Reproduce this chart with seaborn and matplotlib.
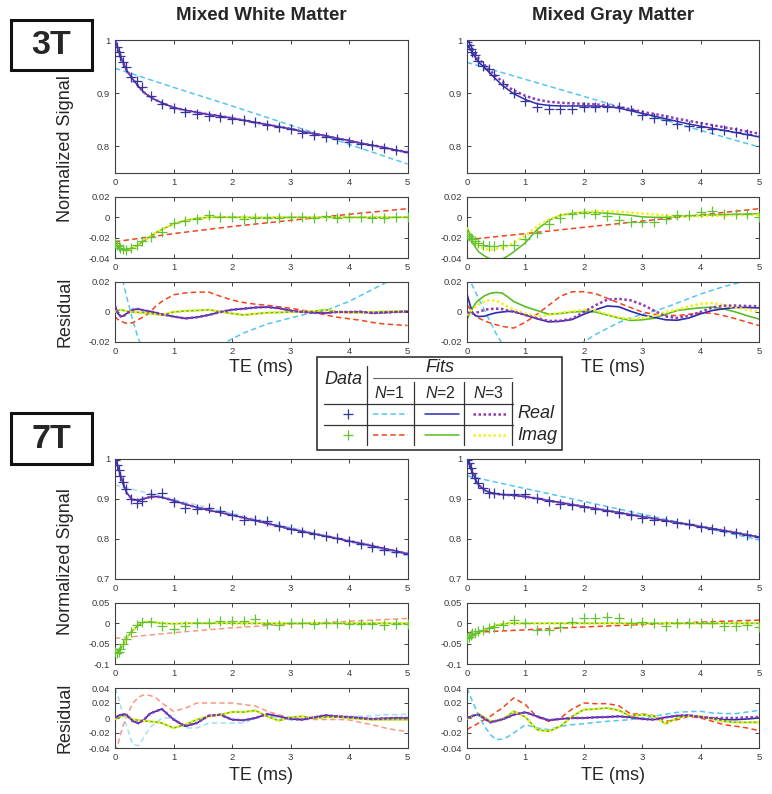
import matplotlib
matplotlib.use('Agg')
import matplotlib.pyplot as plt
from matplotlib.patches import Rectangle
from matplotlib.ticker import FuncFormatter
import seaborn as sns

# echo times (ms): measured points, fitted-curve grid, coarse grid for the N=1 fits
TE_DATA = [0, 0.03, 0.06, 0.09, 0.13, 0.19, 0.28, 0.37, 0.47, 0.62, 0.8, 1.0,
           1.2, 1.4, 1.6, 1.8, 2.0, 2.2, 2.4, 2.6, 2.8, 3.0, 3.2, 3.4, 3.6, 3.8,
           4.0, 4.2, 4.4, 4.6, 4.8, 5.0]
TE_FIT = [0, 0.05, 0.1, 0.15, 0.2, 0.3, 0.4, 0.5, 0.6, 0.7, 0.8, 1.0,
          1.2, 1.4, 1.6, 1.8, 2.0, 2.2, 2.4, 2.6, 2.8, 3.0, 3.2, 3.4, 3.6, 3.8,
          4.0, 4.2, 4.4, 4.6, 4.8, 5.0]
TE_N1 = [0, 1, 2, 3, 4, 5]

# ---------------- 3T mixed white matter ----------------
WM3_REAL = [1.000, 0.987, 0.978, 0.969, 0.959, 0.950, 0.931, 0.922, 0.911, 0.894, 0.880, 0.872,
            0.864, 0.861, 0.858, 0.855, 0.852, 0.849, 0.846, 0.841, 0.836, 0.832, 0.826, 0.822,
            0.817, 0.814, 0.809, 0.805, 0.802, 0.797, 0.794, 0.789]
WM3_IMAG = [-0.025, -0.027, -0.028, -0.030, -0.031, -0.032, -0.030, -0.027, -0.023, -0.019, -0.014, -0.006,
            -0.004, -0.002, 0.002, 0.0005, 0.0, -0.0015, -0.0005, -0.0005, -0.0005, 0.0003, 0.0003, -0.0005,
            0.0015, -0.0005, 0.0003, 0.0003, -0.0005, -0.0005, 0.0, 0.0005]
WM3_N1_REAL = [0.947, 0.911, 0.876, 0.840, 0.804, 0.767]
WM3_N1_IMAG = [-0.024, -0.016, -0.009, -0.003, 0.003, 0.0085]
WM3_N2_REAL = [1.000, 0.982, 0.968, 0.955, 0.943, 0.927, 0.913, 0.901, 0.893, 0.887, 0.882, 0.873,
               0.868, 0.864, 0.860, 0.857, 0.853, 0.849, 0.845, 0.841, 0.837, 0.833, 0.828, 0.824,
               0.820, 0.815, 0.811, 0.806, 0.802, 0.798, 0.793, 0.789]
WM3_N2_IMAG = [-0.027, -0.029, -0.031, -0.032, -0.032, -0.030, -0.027, -0.023, -0.019, -0.015, -0.012, -0.0065,
               -0.003, -0.001, 0.0, 0.0003, 0.0002, 0.0, -0.0002, -0.0002, 0.0, 0.0, 0.0001, 0.0,
               0.0, 0.0, 0.0, 0.0, 0.0, 0.0, 0.0, 0.0002]
WM3_N3_REAL = WM3_N2_REAL
WM3_N3_IMAG = WM3_N2_IMAG
WM3_RES_N1_REAL = [0.050, 0.040, 0.030, 0.018, 0.010, -0.005, -0.018, -0.027, -0.032, -0.036, -0.038, -0.039,
                   -0.037, -0.032, -0.027, -0.022, -0.018, -0.014, -0.011, -0.008, -0.006, -0.004, -0.002, -0.0005,
                   0.001, 0.004, 0.007, 0.011, 0.015, 0.019, 0.024, 0.029]
WM3_RES_N1_IMAG = [-0.003, -0.005, -0.006, -0.007, -0.0075, -0.0072, -0.005, -0.003, 0.0, 0.004, 0.007, 0.0115,
                   0.0127, 0.0132, 0.0133, 0.0105, 0.008, 0.0063, 0.0052, 0.0045, 0.0035, 0.0025, 0.0012, 0.0,
                   -0.002, -0.0035, -0.0045, -0.0055, -0.007, -0.008, -0.0085, -0.009]
WM3_RES_N2_REAL = [0.004, -0.001, -0.003, -0.0025, -0.001, 0.0015, 0.002, 0.001, 0.0004, -0.0005, -0.0015, -0.003,
                   -0.0043, -0.0035, -0.002, 0.0, 0.0015, 0.0022, 0.003, 0.0033, 0.0025, 0.001, 0.0, -0.0005,
                   -0.0007, 0.0, 0.0, 0.0002, -0.0007, -0.0004, 0.0, 0.0003]
WM3_RES_N2_IMAG = [0.0, 0.001, 0.0015, 0.001, 0.0005, 0.0, -0.0003, -0.0005, -0.001, -0.0015, -0.002, 0.0,
                   0.0007, 0.001, 0.0015, 0.0002, -0.001, -0.002, -0.0012, -0.0005, -0.0003, 0.0, 0.0002, 0.0005,
                   0.0015, 0.0, -0.0003, -0.0005, 0.0, 0.0003, 0.0004, 0.0005]
WM3_RES_N3_REAL = WM3_RES_N2_REAL
WM3_RES_N3_IMAG = WM3_RES_N2_IMAG

# ---------------- 3T mixed gray matter ----------------
GM3_REAL = [0.997, 0.990, 0.983, 0.977, 0.971, 0.961, 0.951, 0.945, 0.935, 0.918, 0.900, 0.886,
            0.875, 0.870, 0.870, 0.870, 0.875, 0.875, 0.875, 0.874, 0.868, 0.859, 0.853, 0.849,
            0.843, 0.839, 0.837, 0.833, 0.830, 0.828, 0.824, 0.819]
GM3_IMAG = [-0.016, -0.018, -0.020, -0.021, -0.023, -0.025, -0.0275, -0.028, -0.028, -0.0275, -0.0275, -0.021,
            -0.015, -0.007, -0.001, 0.0036, 0.0043, 0.0036, 0.001, -0.0022, -0.0046, -0.0049, -0.0049, -0.0016,
            0.002, 0.0026, 0.005, 0.0059, 0.0036, 0.0036, 0.003, 0.0]
GM3_N1_REAL = [0.958, 0.926, 0.894, 0.862, 0.830, 0.799]
GM3_N1_IMAG = [-0.022, -0.016, -0.0098, -0.0037, 0.0024, 0.0085]
GM3_N2_REAL = [0.990, 0.984, 0.975, 0.966, 0.958, 0.948, 0.937, 0.926, 0.915, 0.907, 0.899, 0.888,
               0.880, 0.877, 0.876, 0.876, 0.876, 0.876, 0.875, 0.872, 0.867, 0.862, 0.857, 0.852,
               0.847, 0.842, 0.838, 0.834, 0.830, 0.826, 0.822, 0.818]
GM3_N2_IMAG = [-0.009, -0.018, -0.025, -0.030, -0.034, -0.038, -0.041, -0.042, -0.041, -0.038, -0.034, -0.025,
               -0.012, -0.003, 0.002, 0.004, 0.005, 0.0047, 0.004, 0.003, 0.002, 0.0005, 0.0, 0.0,
               0.0007, 0.0013, 0.002, 0.0023, 0.0026, 0.003, 0.0033, 0.0036]
GM3_N3_REAL = [1.000, 0.991, 0.982, 0.973, 0.965, 0.953, 0.942, 0.932, 0.922, 0.912, 0.905, 0.895,
               0.888, 0.884, 0.882, 0.881, 0.880, 0.879, 0.877, 0.874, 0.870, 0.865, 0.861, 0.857,
               0.852, 0.848, 0.844, 0.840, 0.836, 0.832, 0.828, 0.824]
GM3_N3_IMAG = [-0.010, -0.017, -0.022, -0.026, -0.028, -0.031, -0.032, -0.031, -0.030, -0.028, -0.025, -0.018,
               -0.009, -0.002, 0.002, 0.004, 0.005, 0.0058, 0.006, 0.0055, 0.0048, 0.0038, 0.0028, 0.0018,
               0.0012, 0.001, 0.0012, 0.0015, 0.0018, 0.002, 0.0023, 0.0026]
GM3_RES_N1_REAL = [0.030, 0.021, 0.017, 0.013, 0.009, 0.001, -0.0067, -0.0145, -0.021, -0.026, -0.029, -0.033,
                   -0.034, -0.033, -0.029, -0.025, -0.020, -0.015, -0.011, -0.007, -0.004, -0.0015, 0.0005, 0.003,
                   0.006, 0.009, 0.012, 0.0145, 0.017, 0.019, 0.021, 0.023]
GM3_RES_N1_IMAG = [0.005, 0.002, -0.0005, -0.0025, -0.004, -0.006, -0.0073, -0.0085, -0.0095, -0.0102, -0.0107, -0.0068,
                   -0.0015, 0.0045, 0.0105, 0.0135, 0.0135, 0.0122, 0.0092, 0.006, 0.003, 0.0, -0.0015, -0.0022,
                   -0.0024, -0.0015, -0.0007, -0.0008, -0.0025, -0.0045, -0.0068, -0.009]
GM3_RES_N2_REAL = [0.012, 0.005, -0.001, -0.0025, -0.003, -0.0028, -0.0015, -0.0005, 0.0, 0.0004, 0.0003, -0.002,
                   -0.0045, -0.0066, -0.0062, -0.005, -0.0015, 0.0015, 0.004, 0.0035, 0.0005, -0.002, -0.0035, -0.0052,
                   -0.0055, -0.004, -0.0012, 0.001, 0.0022, 0.003, 0.003, 0.0027]
GM3_RES_N2_IMAG = [-0.005, -0.0005, 0.003, 0.006, 0.008, 0.0108, 0.0125, 0.013, 0.0127, 0.010, 0.007, 0.0035,
                   0.001, -0.0015, -0.001, 0.0, 0.0004, 0.0, -0.002, -0.004, -0.0056, -0.0052, -0.0042, -0.0015,
                   0.001, 0.002, 0.0028, 0.0033, 0.002, 0.0, -0.0025, -0.0047]
GM3_RES_N3_REAL = [0.0, -0.001, -0.001, -0.0005, 0.0, 0.0015, 0.002, 0.0022, 0.002, 0.001, 0.0002, -0.002,
                   -0.0042, -0.006, -0.0058, -0.0045, 0.0, 0.0045, 0.0082, 0.0088, 0.0078, 0.005, 0.001, -0.003,
                   -0.004, -0.0025, 0.0, 0.003, 0.0042, 0.0043, 0.004, 0.0038]
GM3_RES_N3_IMAG = [-0.002, 0.0, 0.002, 0.0035, 0.005, 0.007, 0.008, 0.0075, 0.0055, 0.0035, 0.0015, -0.001,
                   -0.003, -0.002, -0.0005, 0.0005, 0.0015, 0.0012, -0.0015, -0.0035, -0.0047, -0.004, -0.0025, 0.0,
                   0.0015, 0.0038, 0.0055, 0.006, 0.0045, 0.003, 0.0015, 0.0004]

# ---------------- 7T mixed white matter ----------------
WM7_REAL = [0.998, 0.986, 0.972, 0.958, 0.942, 0.926, 0.900, 0.890, 0.895, 0.912, 0.915, 0.892,
            0.877, 0.875, 0.877, 0.869, 0.860, 0.848, 0.848, 0.844, 0.833, 0.825, 0.817, 0.813,
            0.808, 0.802, 0.794, 0.787, 0.779, 0.773, 0.768, 0.762]
WM7_IMAG = [-0.070, -0.074, -0.070, -0.063, -0.052, -0.038, -0.021, -0.004, 0.004, 0.004, -0.0066, -0.013,
            -0.0066, 0.0016, 0.0, 0.0066, 0.0066, 0.0066, 0.010, -0.0016, -0.004, 0.0, 0.0016, -0.0016,
            0.0, 0.0016, -0.0016, -0.0016, -0.0016, -0.004, -0.0016, -0.0016]
WM7_N1_REAL = [0.935, 0.899, 0.864, 0.829, 0.793, 0.758]
WM7_N1_IMAG = [-0.037, -0.023, -0.011, -0.002, 0.005, 0.012]
WM7_N2_REAL = [1.000, 0.980, 0.955, 0.935, 0.915, 0.898, 0.897, 0.901, 0.905, 0.906, 0.904, 0.896,
               0.887, 0.879, 0.872, 0.866, 0.860, 0.853, 0.846, 0.839, 0.832, 0.825, 0.819, 0.813,
               0.807, 0.801, 0.795, 0.789, 0.783, 0.776, 0.770, 0.763]
WM7_N2_IMAG = [-0.072, -0.070, -0.062, -0.050, -0.036, -0.018, -0.004, 0.003, 0.004, 0.002, 0.0, -0.001,
               0.0, 0.0005, 0.0005, 0.0003, 0.0, 0.0, 0.0, 0.0, 0.0, 0.0, 0.0, 0.0,
               0.0, 0.0, 0.0, 0.0, 0.0, 0.0, 0.0, 0.0]
WM7_N3_REAL = WM7_N2_REAL
WM7_N3_IMAG = WM7_N2_IMAG
WM7_RES_N1_REAL = [0.040, 0.030, 0.015, 0.0, -0.011, -0.035, -0.037, -0.025, -0.012, -0.007, 0.0, 0.0,
                   -0.0133, -0.0133, -0.0067, -0.0067, -0.0067, -0.0067, 0.0, 0.0044, -0.0013, -0.0022, -0.0022, 0.0,
                   0.0022, 0.0013, 0.0022, 0.0022, 0.003, 0.0044, 0.0044, 0.005]
WM7_RES_N1_IMAG = [-0.045, -0.035, -0.020, -0.008, 0.002, 0.019, 0.028, 0.031, 0.030, 0.027, 0.020, 0.009,
                   0.013, 0.020, 0.020, 0.020, 0.020, 0.018, 0.016, 0.009, 0.0044, 0.0, -0.002, -0.002,
                   -0.002, -0.002, -0.0025, -0.006, -0.009, -0.013, -0.016, -0.018]
WM7_RES_N2_REAL = [0.0, 0.003, 0.004, 0.005, 0.004, -0.004, -0.007, -0.002, 0.006, 0.009, 0.012, -0.002,
                   -0.011, -0.0067, 0.003, 0.0044, -0.0022, -0.003, 0.0, 0.0053, 0.0022, -0.0013, -0.0022, 0.0009,
                   0.0036, 0.0022, 0.0013, 0.0, -0.0013, -0.0005, 0.0, 0.0]
WM7_RES_N2_IMAG = [-0.0013, 0.0, 0.002, 0.004, 0.003, -0.002, -0.003, -0.004, -0.0045, -0.0055, -0.0067, -0.0133,
                   -0.009, -0.0022, 0.0022, 0.0044, 0.008, 0.008, 0.010, 0.0022, -0.0036, 0.0009, 0.0022, -0.0003,
                   0.0009, 0.0013, 0.0, -0.0013, -0.0022, -0.0022, -0.0022, -0.0022]
WM7_RES_N3_REAL = WM7_RES_N2_REAL
WM7_RES_N3_IMAG = WM7_RES_N2_IMAG

# ---------------- 7T mixed gray matter ----------------
GM7_REAL = [0.998, 0.990, 0.977, 0.965, 0.952, 0.940, 0.927, 0.916, 0.915, 0.912, 0.912, 0.912,
            0.902, 0.894, 0.888, 0.886, 0.880, 0.875, 0.871, 0.866, 0.860, 0.852, 0.848, 0.846,
            0.841, 0.838, 0.831, 0.825, 0.819, 0.814, 0.810, 0.804]
GM7_IMAG = [-0.037, -0.033, -0.029, -0.025, -0.023, -0.020, -0.016, -0.012, -0.008, -0.004, 0.007, 0.0,
            -0.016, -0.016, -0.008, 0.004, 0.013, 0.013, 0.016, 0.012, 0.002, 0.004, 0.0, -0.006,
            0.0, 0.0016, 0.0, 0.0, -0.006, -0.006, -0.003, -0.008]
GM7_N1_REAL = [0.958, 0.926, 0.894, 0.862, 0.830, 0.798]
GM7_N1_IMAG = [-0.023, -0.016, -0.009, -0.003, 0.003, 0.008]
GM7_N2_REAL = [1.000, 0.985, 0.965, 0.948, 0.935, 0.922, 0.916, 0.913, 0.911, 0.910, 0.909, 0.906,
               0.901, 0.896, 0.891, 0.886, 0.881, 0.876, 0.871, 0.866, 0.861, 0.856, 0.851, 0.846,
               0.841, 0.836, 0.831, 0.826, 0.821, 0.816, 0.810, 0.805]
GM7_N2_IMAG = [-0.040, -0.035, -0.030, -0.026, -0.022, -0.016, -0.010, -0.005, -0.002, 0.0, 0.0, 0.0,
               0.0, 0.0, 0.0, 0.0, 0.0, 0.0, 0.0, 0.0, 0.0, 0.0, 0.0, 0.0,
               0.0, 0.0, 0.0, 0.0, 0.0, 0.0, 0.0, 0.0]
GM7_N3_REAL = GM7_N2_REAL
GM7_N3_IMAG = GM7_N2_IMAG
GM7_RES_N1_REAL = [0.040, 0.030, 0.021, 0.012, 0.003, -0.011, -0.0222, -0.029, -0.028, -0.025, -0.020, -0.009,
                   -0.0133, -0.0156, -0.011, -0.0089, -0.0076, -0.006, -0.0044, -0.0033, -0.0022, 0.0, 0.0022, 0.005,
                   0.0076, 0.0085, 0.0089, 0.0067, 0.006, 0.0058, 0.008, 0.0102]
GM7_RES_N1_IMAG = [-0.0156, -0.013, -0.011, -0.009, -0.0067, -0.002, 0.0022, 0.008, 0.013, 0.020, 0.0267, 0.0178,
                   0.0013, -0.0044, 0.0, 0.012, 0.020, 0.0191, 0.0191, 0.0164, 0.0053, 0.0053, 0.003, -0.0044,
                   -0.0022, 0.0022, 0.0, -0.0044, -0.0089, -0.011, -0.0133, -0.0169]
GM7_RES_N2_REAL = [0.0, 0.0015, 0.003, 0.004, 0.0044, -0.001, -0.0058, -0.004, -0.0018, 0.001, 0.0044, 0.0076,
                   0.0022, -0.003, -0.0013, 0.0, 0.0, 0.0009, 0.0013, 0.0022, 0.0009, -0.0013, -0.0022, 0.0009,
                   0.003, 0.0036, 0.0013, 0.0, -0.0022, -0.0022, -0.0013, 0.0]
GM7_RES_N3_REAL = [0.0, 0.0015, 0.003, 0.004, 0.0044, -0.001, -0.0058, -0.004, -0.0018, 0.001, 0.0044, 0.0076,
                   0.0022, -0.003, -0.0013, 0.0, 0.0, 0.0009, 0.0013, 0.0022, 0.0009, -0.0013, -0.0022, 0.0009,
                   0.003, 0.0036, 0.0013, 0.0, 0.0, 0.0, 0.0009, 0.0013]
GM7_RES_N2_IMAG = [-0.0013, 0.0005, 0.0025, 0.004, 0.0053, 0.0005, -0.0044, -0.0035, -0.0025, 0.003, 0.0089, 0.0013,
                   -0.0156, -0.0178, -0.0111, 0.0022, 0.0111, 0.012, 0.0133, 0.0102, 0.0022, 0.0044, 0.0022, -0.0076,
                   0.0, 0.003, 0.0022, -0.0013, -0.0044, -0.0058, -0.0058, -0.0058]
GM7_RES_N3_IMAG = GM7_RES_N2_IMAG

TITLES = ['Mixed White Matter', 'Mixed Gray Matter']

# colours
C_DATA_RE = '#35359e'
C_DATA_IM = '#62c234'
C_N1_RE = '#55c6ee'
C_N1_IM = '#f2441c'
C_N2_RE = '#2c2cae'
C_N2_IM = '#58bd22'
C_N3_RE = '#9238b4'
C_N3_IM = '#f4f01a'
DASH = (0, (3.5, 2.2))
DOT = (0, (1, 1))

sns.set_style('ticks')
plt.rcParams['font.family'] = ['Liberation Sans', 'DejaVu Sans']
plt.rcParams['axes.unicode_minus'] = False
plt.rcParams['mathtext.fontset'] = 'custom'
plt.rcParams['mathtext.it'] = 'Liberation Sans:italic'
plt.rcParams['mathtext.rm'] = 'Liberation Sans'

W, H = 772, 794
fig = plt.figure(figsize=(W / 100, H / 100), dpi=100)
FMT = FuncFormatter(lambda v, p: f'{v:g}')


def px_axes(x0, y0, x1, y1):
    return fig.add_axes([x0 / W, 1 - y1 / H, (x1 - x0) / W, (y1 - y0) / H])


def curve(ax, x, y, color, ls, lw=1.1, alpha=1.0, z=2):
    sns.lineplot(x=x, y=y, ax=ax, color=color, linestyle=ls, linewidth=lw,
                 alpha=alpha, errorbar=None, legend=False, zorder=z)


def marks(ax, x, y, color):
    ax.plot(x, y, linestyle='none', marker='+', color=color, ms=6.5, mew=0.9, zorder=5)


def style(ax, ylim, yticks):
    ax.set_xlim(0, 5)
    ax.set_ylim(*ylim)
    ax.set_xticks([0, 1, 2, 3, 4, 5])
    ax.set_yticks(yticks)
    ax.xaxis.set_major_formatter(FMT)
    ax.yaxis.set_major_formatter(FMT)
    ax.tick_params(direction='in', length=3, width=0.7, top=True, right=True,
                   labelsize=6.8, labelcolor='#3a3a3a', color='#404040', pad=3.5)
    for s in ax.spines.values():
        s.set_linewidth(0.8)
        s.set_color('#404040')
    ax.set_xlabel('')
    ax.set_ylabel('')


def column(x0, x1, rows, d, lims, faint):
    a = 0.55 if faint else 1.0
    ax_s = px_axes(x0, rows[0][0], x1, rows[0][1])
    ax_i = px_axes(x0, rows[1][0], x1, rows[1][1])
    ax_r = px_axes(x0, rows[2][0], x1, rows[2][1])
    # signal magnitude (real channel)
    curve(ax_s, TE_N1, d['n1_re'], C_N1_RE, DASH, alpha=a, z=1)
    curve(ax_s, TE_FIT, d['n2_re'], C_N2_RE, '-', z=2)
    curve(ax_s, TE_FIT, d['n3_re'], C_N3_RE, DOT, lw=1.8, z=3)
    marks(ax_s, TE_DATA, d['re'], C_DATA_RE)
    # imaginary channel
    curve(ax_i, TE_N1, d['n1_im'], C_N1_IM, DASH, alpha=a, z=1)
    curve(ax_i, TE_FIT, d['n2_im'], C_N2_IM, '-', z=2)
    curve(ax_i, TE_FIT, d['n3_im'], C_N3_IM, DOT, lw=1.8, z=3)
    marks(ax_i, TE_DATA, d['im'], C_DATA_IM)
    # residuals
    curve(ax_r, TE_FIT, d['r1_re'], C_N1_RE, DASH, alpha=a, z=1)
    curve(ax_r, TE_FIT, d['r1_im'], C_N1_IM, DASH, alpha=a, z=1)
    curve(ax_r, TE_FIT, d['r2_im'], C_N2_IM, '-', lw=1.2, z=2)
    curve(ax_r, TE_FIT, d['r3_im'], C_N3_IM, DOT, lw=1.8, z=3)
    curve(ax_r, TE_FIT, d['r2_re'], C_N2_RE, '-', lw=1.2, z=2)
    curve(ax_r, TE_FIT, d['r3_re'], C_N3_RE, DOT, lw=1.8, z=3)
    for ax, (ylim, yt) in zip((ax_s, ax_i, ax_r), lims):
        style(ax, ylim, yt)


def pack(re, im, n1r, n1i, n2r, n2i, n3r, n3i, r1r, r1i, r2r, r2i, r3r, r3i):
    return dict(re=re, im=im, n1_re=n1r, n1_im=n1i, n2_re=n2r, n2_im=n2i, n3_re=n3r, n3_im=n3i,
                r1_re=r1r, r1_im=r1i, r2_re=r2r, r2_im=r2i, r3_re=r3r, r3_im=r3i)


COLS = [(115, 407.5), (467, 759)]
ROWS_3T = [(40, 173), (197, 258), (282, 342)]
ROWS_7T = [(459, 579), (603, 664), (688, 748)]
LIM_3T = [((0.75, 1.0), [0.8, 0.9, 1.0]),
          ((-0.04, 0.02), [-0.04, -0.02, 0, 0.02]),
          ((-0.02, 0.02), [-0.02, 0, 0.02])]
LIM_7T = [((0.7, 1.0), [0.7, 0.8, 0.9, 1.0]),
          ((-0.1, 0.05), [-0.1, -0.05, 0, 0.05]),
          ((-0.04, 0.04), [-0.04, -0.02, 0, 0.02, 0.04])]

wm3 = pack(WM3_REAL, WM3_IMAG, WM3_N1_REAL, WM3_N1_IMAG, WM3_N2_REAL, WM3_N2_IMAG, WM3_N3_REAL, WM3_N3_IMAG,
           WM3_RES_N1_REAL, WM3_RES_N1_IMAG, WM3_RES_N2_REAL, WM3_RES_N2_IMAG, WM3_RES_N3_REAL, WM3_RES_N3_IMAG)
gm3 = pack(GM3_REAL, GM3_IMAG, GM3_N1_REAL, GM3_N1_IMAG, GM3_N2_REAL, GM3_N2_IMAG, GM3_N3_REAL, GM3_N3_IMAG,
           GM3_RES_N1_REAL, GM3_RES_N1_IMAG, GM3_RES_N2_REAL, GM3_RES_N2_IMAG, GM3_RES_N3_REAL, GM3_RES_N3_IMAG)
wm7 = pack(WM7_REAL, WM7_IMAG, WM7_N1_REAL, WM7_N1_IMAG, WM7_N2_REAL, WM7_N2_IMAG, WM7_N3_REAL, WM7_N3_IMAG,
           WM7_RES_N1_REAL, WM7_RES_N1_IMAG, WM7_RES_N2_REAL, WM7_RES_N2_IMAG, WM7_RES_N3_REAL, WM7_RES_N3_IMAG)
gm7 = pack(GM7_REAL, GM7_IMAG, GM7_N1_REAL, GM7_N1_IMAG, GM7_N2_REAL, GM7_N2_IMAG, GM7_N3_REAL, GM7_N3_IMAG,
           GM7_RES_N1_REAL, GM7_RES_N1_IMAG, GM7_RES_N2_REAL, GM7_RES_N2_IMAG, GM7_RES_N3_REAL, GM7_RES_N3_IMAG)

column(*COLS[0], ROWS_3T, wm3, LIM_3T, False)
column(*COLS[1], ROWS_3T, gm3, LIM_3T, False)
column(*COLS[0], ROWS_7T, wm7, LIM_7T, True)
column(*COLS[1], ROWS_7T, gm7, LIM_7T, False)

# overlay in pixel units for labels, field-strength boxes and the legend table
ov = fig.add_axes([0, 0, 1, 1], zorder=10)
ov.set_xlim(0, W)
ov.set_ylim(H, 0)
ov.axis('off')

for (x0, x1), title in zip(COLS, TITLES):
    xc = (x0 + x1) / 2
    ov.text(xc, 15.5, title, ha='center', va='center', fontsize=13.5, fontweight='bold')
    ov.text(xc, 368, 'TE (ms)', ha='center', va='center', fontsize=13)
    ov.text(xc, 775, 'TE (ms)', ha='center', va='center', fontsize=13)

for rows in (ROWS_3T, ROWS_7T):
    ov.text(65, (rows[0][0] + rows[1][1]) / 2, 'Normalized Signal', rotation=90,
            ha='center', va='center', fontsize=13)
    ov.text(65, (rows[2][0] + rows[2][1]) / 2, 'Residual', rotation=90,
            ha='center', va='center', fontsize=13)

for label, (y0, y1) in (('3T', (19.5, 70)), ('7T', (413, 464))):
    ov.add_patch(Rectangle((10.5, y0), 81.5, y1 - y0, fill=False, lw=2.2, ec='#111111'))
    ov.text(51, (y0 + y1) / 2 + 1, label, ha='center', va='center', fontsize=24.5, fontweight='bold')

# legend table
LX0, LY0, LX1, LY1 = 316.5, 357, 562, 450
ov.add_patch(Rectangle((LX0, LY0), LX1 - LX0, LY1 - LY0, fc='white', ec='#222222', lw=1.1))
ov.text(343, 380, 'Data', style='italic', ha='center', va='center', fontsize=13)
ov.text(440, 367.5, 'Fits', style='italic', ha='center', va='center', fontsize=13)
ov.plot([373, 512], [377.5, 377.5], color='#666666', lw=0.8)
for xc, n in ((390, 1), (440, 2), (489, 3)):
    ov.text(xc, 393.5, f'$N$={n}', ha='center', va='center', fontsize=11.5)
ov.plot([367, 367], [366, 445], color='#333333', lw=0.9)
for xv in (414, 464, 512):
    ov.plot([xv, xv], [382, 445], color='#333333', lw=0.9)
for yh in (403.5, 424.5):
    ov.plot([324, 513], [yh, yh], color='#333333', lw=0.9)
LEG_ROWS = [(413.5, C_DATA_RE, C_N1_RE, C_N2_RE, C_N3_RE, 'Real'),
            (435, C_DATA_IM, C_N1_IM, C_N2_IM, C_N3_IM, 'Imag')]
for y, cd, c1, c2, c3, name in LEG_ROWS:
    ov.plot([348], [y], marker='+', color=cd, ms=6.5, mew=0.9)
    ov.plot([373, 408], [y, y], color=c1, lw=1.1, linestyle=DASH)
    ov.plot([425, 459], [y, y], color=c2, lw=1.1)
    ov.plot([473, 508], [y, y], color=c3, lw=1.8, linestyle=DOT)
    ov.text(517, y, name, style='italic', ha='left', va='center', fontsize=13)

fig.savefig('out.png', dpi=100)
